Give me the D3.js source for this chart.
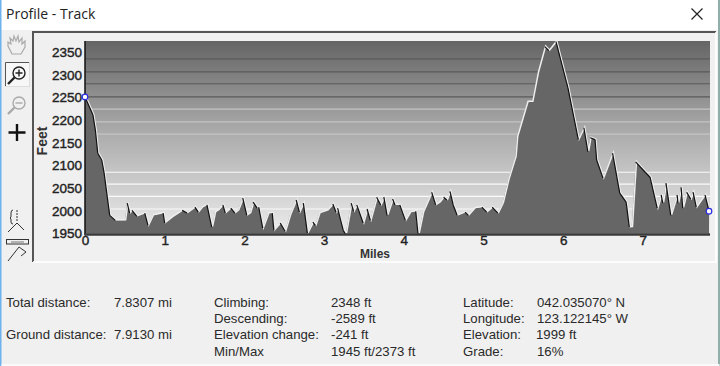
<!DOCTYPE html>
<html>
<head>
<meta charset="utf-8">
<title>Profile - Track</title>
<script src="https://cdn.jsdelivr.net/npm/d3@7"></script>
<style>
	html, body { margin: 0; padding: 0; background: #f0f0f0; overflow: hidden; }
	text { font-family: "Liberation Sans", Arial, sans-serif; fill: #222; }
</style>
</head>
<body>
<div id="chart"></div>
<script>
'use strict';

// Profile
const miles = [0,.10,.13,.16,.21,.24,.28,.31,.38,.50,.53,.56,.59,.65,.75,.79,.85,.98,1.00,1.09,1.22,1.28,1.38,1.42,1.47,1.53,1.59,1.63,1.67,1.73,1.76,1.83,1.88,1.92,1.98,2.03,2.07,2.11,2.16,2.18,2.23,2.30,2.35,2.37,2.45,2.51,2.57,2.65,2.69,2.74,2.79,2.86,2.89,2.94,3.04,3.11,3.15,3.17,3.24,3.27,3.34,3.37,3.41,3.49,3.54,3.58,3.66,3.71,3.75,3.79,3.86,3.89,3.95,4.02,4.08,4.15,4.18,4.24,4.35,4.40,4.45,4.50,4.54,4.58,4.62,4.67,4.77,4.81,4.89,4.98,5.04,5.11,5.18,5.24,5.31,5.40,5.42,5.55,5.61,5.68,5.77,5.82,5.91,6.06,6.19,6.26,6.31,6.34,6.40,6.42,6.50,6.62,6.71,6.79,6.83,6.86,6.91,7.03,7.09,7.18,7.23,7.25,7.29,7.35,7.43,7.44,7.48,7.50,7.55,7.60,7.63,7.67,7.78,7.83];
const feet = [2251,2211,2178,2127,2112,2083,2030,1990,1979,1979,2017,1995,2001,1988,1995,1968,1990,1995,1973,1986,2001,1995,2008,1997,2008,2013,1964,1997,2001,2013,1995,2006,1995,2001,2028,1990,1995,2019,2006,2008,1962,1995,1995,1957,1973,1955,1990,2024,1997,2017,1951,1975,1968,1995,2001,2015,1997,2006,1957,1948,2017,1999,2013,1973,2004,1979,2030,2013,2030,1990,2026,2013,2013,1979,1997,1999,1946,1997,2041,2013,2019,2030,2024,2043,2013,1990,1997,1990,2006,2008,1997,2008,1995,2017,2068,2119,2163,2240,2240,2304,2362,2353,2373,2271,2157,2183,2130,2161,2157,2112,2072,2127,2039,2019,1964,1964,2108,2085,2074,2006,2035,2017,2061,1990,2035,2017,2052,2006,2041,2026,2041,2008,2035,1999];

const yTicks = [1950,2000,2050,2100,2150,2200,2250,2300,2350];
const xTicks = [0,1,2,3,4,5,6,7];
const darkLines = [2335,2306,2280,2251];
const midLines = [2224,2196,2169];
const lightLines = [2085,2059,2032,2004];

const statsLeft = [['Total distance:','7.8307 mi',302],['Ground distance:','7.9130 mi',334]];
const statsMiddle = [['Climbing:','2348 ft',302],['Descending:','-2589 ft',318],['Elevation change:','-241 ft',334],['Min/Max','1945 ft/2373 ft',351]];
const statsRight = [['Latitude:','042.035070° N',537,302],['Longitude:','123.122145° W',537,318],['Elevation:','1999 ft',536,334],['Grade:','16%',537,351]];

const width = 720, height = 366;
const plot = {left: 85, right: 710, top: 41, bottom: 233.5};

const svg = d3.select('#chart').append('svg')
	.attr('width', width)
	.attr('height', height)
	.style('display', 'block');

// Window: title bar, panel, sunken chart frame
svg.append('rect').attr('width', width).attr('height', height).attr('fill', '#f0f0f0');
svg.append('rect').attr('width', width).attr('height', 30).attr('fill', '#fff');
svg.append('rect').attr('width', 1.5).attr('height', height).attr('fill', '#6db2ee');
svg.append('rect').attr('x', 718).attr('width', 2).attr('height', height).attr('fill', '#8fb0a8');
svg.append('rect').attr('x', 1.5).attr('y', 364).attr('width', 718).attr('height', 2).attr('fill', '#fafafa');

svg.append('path').attr('d', d3.line()([[33,262],[33,32],[716,32]]))
	.attr('fill', 'none').attr('stroke', '#555').attr('stroke-width', 2);
svg.append('path').attr('d', d3.line()([[716,32],[716,262],[33,262]]))
	.attr('fill', 'none').attr('stroke', '#fff').attr('stroke-width', 1.5);

svg.append('text').attr('x', 6).attr('y', 19)
	.style('font-family', '"Open Sans", sans-serif').style('font-size', '14px').style('fill', '#222')
	.text('Profile - Track');
svg.append('path').attr('d', 'M691.5 8.5L702.5 19.5M702.5 8.5L691.5 19.5')
	.attr('stroke', '#222').attr('stroke-width', 1.2);

// Scales
const x = d3.scaleLinear().domain([0, 7.83]).range([85, 709]);
const y = d3.scaleLinear().domain([1950, 2350]).range([plot.bottom, 52]);

// Plot background
const grad = svg.append('defs').append('linearGradient')
	.attr('id', 'bg').attr('x1', 0).attr('y1', 0).attr('x2', 0).attr('y2', 1);
grad.append('stop').attr('offset', '0%').attr('stop-color', '#656565');
grad.append('stop').attr('offset', '45%').attr('stop-color', '#a8a8a8');
grad.append('stop').attr('offset', '100%').attr('stop-color', '#ececec');
svg.append('rect')
	.attr('x', plot.left).attr('y', plot.top)
	.attr('width', plot.right - plot.left).attr('height', plot.bottom - plot.top)
	.attr('fill', 'url(#bg)');

function gridLines(values, color){
	svg.append('g').selectAll('line')
		.data(values)
		.enter()
		.append('line')
			.attr('x1', plot.left).attr('x2', plot.right)
			.attr('y1', d => y(d)).attr('y2', d => y(d))
			.attr('stroke', color)
			.attr('stroke-width', 1.2);
}
gridLines(darkLines, '#5a5a5a');
gridLines(midLines, '#c4c4c4');
gridLines(lightLines, '#fafafa');

// Profile
const points = miles.map((m, i) => [m, feet[i]]);
const area = d3.area().x(d => x(d[0])).y0(plot.bottom).y1(d => y(d[1]));
svg.append('path').attr('d', area(points)).attr('fill', '#666');

const line = d3.line().x(d => x(d[0])).y(d => y(d[1]));
svg.append('path').attr('d', line(points))
	.attr('fill', 'none').attr('stroke', '#eee').attr('stroke-width', 1.5)
	.attr('transform', 'translate(0.8,-0.6)');
svg.append('g').selectAll('path')
	.data(d3.pairs(points).filter(p => p[1][1] < p[0][1]))
	.enter()
	.append('path')
		.attr('d', d => line(d))
		.attr('fill', 'none')
		.attr('stroke', '#111')
		.attr('stroke-width', 1.2);

// Axes
const axisLeft = svg.append('g')
	.attr('transform', 'translate(' + plot.left + ',0)')
	.call(d3.axisLeft(y).tickValues(yTicks).tickFormat(d3.format('d')).tickSize(0).tickPadding(3));
axisLeft.select('.domain').remove();
svg.append('line').attr('x1', plot.left).attr('x2', plot.left).attr('y1', plot.top).attr('y2', plot.bottom + 2)
	.attr('stroke', '#111').attr('stroke-width', 1.5);

const axisBottom = svg.append('g')
	.attr('transform', 'translate(0,' + plot.bottom + ')')
	.call(d3.axisBottom(x).tickValues(xTicks).tickFormat(d3.format('d')).tickSize(0).tickPadding(2));
axisBottom.select('.domain').remove();
svg.append('line').attr('x1', plot.left).attr('x2', plot.right).attr('y1', plot.bottom + 1).attr('y2', plot.bottom + 1)
	.attr('stroke', '#3a3a3a').attr('stroke-width', 2.5);

svg.selectAll('.tick text')
	.style('font-size', '13.5px')
	.style('stroke', '#222')
	.style('stroke-width', 0.4)
	.style('fill', '#222');

svg.append('text').attr('x', 375).attr('y', 258).attr('text-anchor', 'middle')
	.style('font-size', '12px').style('font-weight', 'bold').style('fill', '#333')
	.text('Miles');
svg.append('text').attr('transform', 'translate(47,141) rotate(-90)').attr('text-anchor', 'middle')
	.style('font-size', '14px').style('font-weight', 'bold').style('fill', '#333')
	.text('Feet');

// Start and end markers
svg.append('g').selectAll('circle')
	.data([points[0], points[points.length - 1]])
	.enter()
	.append('circle')
		.attr('cx', d => x(d[0]))
		.attr('cy', d => y(d[1]))
		.attr('r', 2.8)
		.attr('fill', '#fff')
		.attr('stroke', '#2a2ae0')
		.attr('stroke-width', 1.2);

// Stats under the chart
function statsText(xPos, yPos, label){
	svg.append('text').attr('x', xPos).attr('y', yPos + 4.5)
		.style('font-size', '13.2px').style('fill', '#2a2a2a')
		.text(label);
}
statsLeft.forEach(d => { statsText(6, d[2], d[0]); statsText(114, d[2], d[1]); });
statsMiddle.forEach(d => { statsText(214, d[2], d[0]); statsText(331, d[2], d[1]); });
statsRight.forEach(d => { statsText(463, d[3], d[0]); statsText(d[2], d[3], d[1]); });

// Toolbar icons
const icons = svg.append('g').attr('fill', 'none');
icons.append('path')
	.attr('d', 'M12 54L8 46L8 42L11 44L10 38L13 41L14 36L16 41L18 36L19 42L22 38L22 44L25 41L25 47L21 54Z')
	.attr('stroke', '#aaa').attr('stroke-width', 1.2);
icons.append('rect').attr('x', 5.5).attr('y', 62.5).attr('width', 24).attr('height', 24)
	.attr('fill', '#f7f7f7').attr('stroke', '#ddd');
icons.append('path').attr('d', 'M5.5 86V62.5H29').attr('stroke', '#555');
icons.append('circle').attr('cx', 19).attr('cy', 73).attr('r', 6).attr('stroke', '#222').attr('stroke-width', 1.4);
icons.append('path').attr('d', 'M15.5 73H22.5M19 69.5V76.5').attr('stroke', '#222').attr('stroke-width', 1.4);
icons.append('path').attr('d', 'M14.5 77.5L8 84').attr('stroke', '#222').attr('stroke-width', 2.4);
icons.append('circle').attr('cx', 19).attr('cy', 103).attr('r', 6).attr('stroke', '#aaa').attr('stroke-width', 1.4);
icons.append('path').attr('d', 'M15.5 103H22.5').attr('stroke', '#aaa').attr('stroke-width', 1.4);
icons.append('path').attr('d', 'M14.5 107.5L8 114').attr('stroke', '#aaa').attr('stroke-width', 2.4);
icons.append('path').attr('d', 'M17 124V141M8.5 132.5H25.5').attr('stroke', '#111').attr('stroke-width', 2.4);
icons.append('path').attr('d', 'M13 210Q11 210 11 213V217L10 218L11 219V222Q11 224 13 224').attr('stroke', '#333');
icons.append('path').attr('d', 'M17 210V222').attr('stroke', '#333').attr('stroke-dasharray', '2,1');
icons.append('path').attr('d', 'M8 232L17 223L24 230').attr('stroke', '#333');
icons.append('rect').attr('x', 6.5).attr('y', 239.5).attr('width', 22).attr('height', 4.5).attr('stroke', '#333');
icons.append('path').attr('d', 'M11 242H24').attr('stroke', '#777');
icons.append('path').attr('d', 'M8 261L19 247L26 252L21 256').attr('stroke', '#333');
</script>
</body>
</html>
